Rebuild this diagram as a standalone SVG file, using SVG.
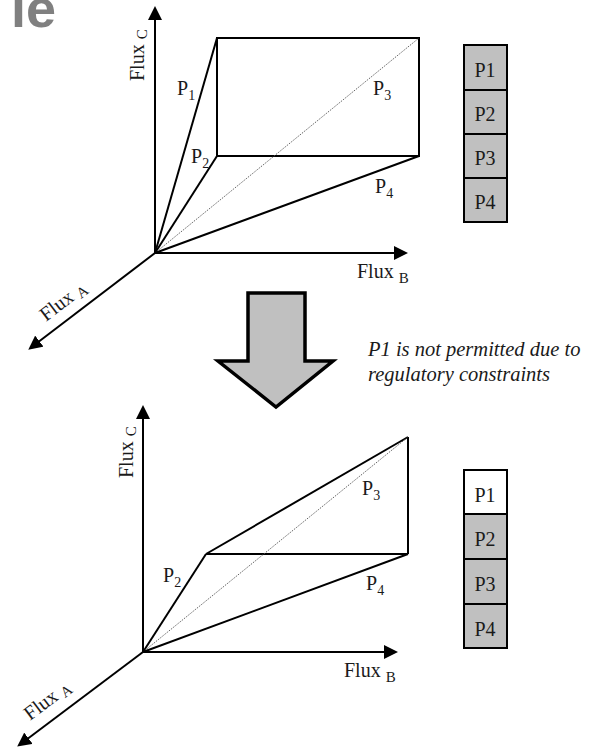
<svg xmlns="http://www.w3.org/2000/svg" width="596" height="750" viewBox="0 0 596 750">
<style>
.ax{stroke:#000;stroke-width:2;fill:none;marker-end:url(#ah)}
.ln{stroke:#000;stroke-width:2;fill:none;stroke-linejoin:miter}
.dot{stroke:#555;stroke-width:1;stroke-dasharray:1.2 1.2;fill:none}
.t{font-family:"Liberation Serif","Times New Roman",serif;fill:#1a1a1a}
.lab{font-size:20px}
.sub{font-size:14px}
.fsub{font-size:15px}
.flux{font-size:20px}
.box{stroke:#000;stroke-width:2}
.g{fill:#c0c0c0}
.w{fill:#fff}
.bt{font-family:"Liberation Serif","Times New Roman",serif;font-size:20px;fill:#1a1a1a;text-anchor:middle}
</style>
<defs>
<marker id="ah" markerUnits="userSpaceOnUse" markerWidth="14" markerHeight="14" viewBox="0 0 14 14" refX="3" refY="7" orient="auto">
<path d="M0,0 L14,7 L0,14 z" fill="#000"/>
</marker>
</defs>
<text x="56" y="27" font-family="Liberation Sans, Arial, sans-serif" font-weight="bold" font-size="54" fill="#808080" text-anchor="end">le</text>

<g id="connectors">
<line class="ax" x1="155" y1="253" x2="155" y2="17"/>
<line class="ax" x1="155" y1="253" x2="397" y2="253"/>
<line class="ax" x1="155" y1="253" x2="37" y2="343"/>
<line class="ax" x1="143" y1="652" x2="143" y2="416"/>
<line class="ax" x1="143" y1="652" x2="387" y2="652"/>
<line class="ax" x1="143" y1="652" x2="26" y2="740"/>
</g>

<g id="top-plot">
<line class="ln" x1="155" y1="253" x2="217" y2="38"/>
<line class="ln" x1="155" y1="253" x2="217" y2="156"/>
<rect class="ln" x="217" y="38" width="202" height="118"/>
<line class="dot" x1="155" y1="253" x2="419" y2="38"/>
<line class="ln" x1="155" y1="253" x2="419" y2="156"/>
<text class="t lab" x="177" y="95">P<tspan class="sub" dy="5">1</tspan></text>
<text class="t lab" x="191" y="163">P<tspan class="sub" dy="5">2</tspan></text>
<text class="t lab" x="373" y="95">P<tspan class="sub" dy="5">3</tspan></text>
<text class="t lab" x="375" y="193">P<tspan class="sub" dy="5">4</tspan></text>
<text class="t flux" transform="translate(144,81) rotate(-90)">Flux <tspan class="fsub" dy="3">C</tspan></text>
<text class="t flux" x="357" y="278">Flux <tspan class="fsub" dy="5">B</tspan></text>
<text class="t flux" transform="translate(46,322) rotate(-37.4)">Flux <tspan class="fsub" dy="3">A</tspan></text>
</g>

<g id="bottom-plot">
<line class="ln" x1="143" y1="652" x2="206" y2="554"/>
<line class="ln" x1="206" y1="554" x2="408" y2="437"/>
<line class="ln" x1="206" y1="554" x2="408" y2="554"/>
<line class="ln" x1="408" y1="437" x2="408" y2="554"/>
<line class="dot" x1="143" y1="652" x2="408" y2="437"/>
<line class="ln" x1="143" y1="652" x2="408" y2="554"/>
<text class="t lab" x="362" y="495">P<tspan class="sub" dy="5">3</tspan></text>
<text class="t lab" x="163" y="582">P<tspan class="sub" dy="5">2</tspan></text>
<text class="t lab" x="366" y="590">P<tspan class="sub" dy="5">4</tspan></text>
<text class="t flux" transform="translate(133,478) rotate(-90)">Flux <tspan class="fsub" dy="3">C</tspan></text>
<text class="t flux" x="344" y="677">Flux <tspan class="fsub" dy="5">B</tspan></text>
<text class="t flux" transform="translate(30,721) rotate(-37)">Flux <tspan class="fsub" dy="3">A</tspan></text>
</g>

<g id="top-box-P1"><rect class="box g" x="464" y="45" width="43" height="45"/><text class="bt" x="485" y="77">P1</text></g>
<g id="top-box-P2"><rect class="box g" x="464" y="90" width="43" height="44"/><text class="bt" x="485" y="121">P2</text></g>
<g id="top-box-P3"><rect class="box g" x="464" y="134" width="43" height="44"/><text class="bt" x="485" y="165">P3</text></g>
<g id="top-box-P4"><rect class="box g" x="464" y="178" width="43" height="44"/><text class="bt" x="485" y="209">P4</text></g>

<g id="bottom-box-P1"><rect class="box w" x="464" y="470" width="43" height="44"/><text class="bt" x="485" y="502">P1</text></g>
<g id="bottom-box-P2"><rect class="box g" x="464" y="514" width="43" height="45"/><text class="bt" x="485" y="546">P2</text></g>
<g id="bottom-box-P3"><rect class="box g" x="464" y="559" width="43" height="45"/><text class="bt" x="485" y="591">P3</text></g>
<g id="bottom-box-P4"><rect class="box g" x="464" y="604" width="43" height="44"/><text class="bt" x="485" y="636">P4</text></g>

<g id="transition-arrow">
<polygon points="248,293 305,293 305,361 333,361 276,407 218,361 248,361" fill="#c0c0c0" stroke="#000" stroke-width="3.5" stroke-linejoin="miter"/>
</g>

<g id="annotation">
<text class="t" font-size="20.5" font-style="italic" x="368" y="356">P1 is not permitted due to</text>
<text class="t" font-size="20.5" font-style="italic" x="368" y="381">regulatory constraints</text>
</g>
</svg>
